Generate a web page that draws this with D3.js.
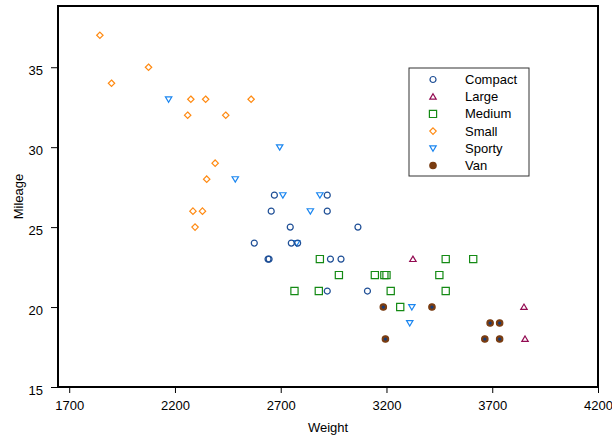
<!DOCTYPE html>
<html>
<head>
<meta charset="utf-8">
<script src="https://cdn.jsdelivr.net/npm/d3@7"></script>
<style>
  html, body { margin: 0; padding: 0; background: #fff; overflow: hidden; }
  svg { display: block; }
  text { font-family: "Liberation Sans", Arial, sans-serif; fill: #000; }
</style>
</head>
<body>
<div id="chart"></div>
<script>
'use strict';

// Car data (Weight vs Mileage) by Type
var types = ['Compact', 'Large', 'Medium', 'Small', 'Sporty', 'Van'];

var compactWeight = [2670, 2640, 2655, 3065, 2750, 2920, 2780, 2745, 3110, 2920, 2645, 2575, 2935, 2920, 2985];
var compactMileage = [27, 23, 26, 25, 24, 26, 24, 25, 21, 21, 23, 24, 23, 27, 23];

var largeWeight = [3325, 3855, 3850];
var largeMileage = [23, 18, 20];

var mediumWeight = [3265, 2880, 2975, 3450, 3145, 3190, 3610, 2885, 3480, 3200, 2765, 3220, 3480];
var mediumMileage = [20, 21, 22, 22, 22, 22, 23, 23, 21, 22, 21, 21, 23];

var smallWeight = [2560, 2345, 1845, 2260, 2440, 2285, 2275, 2350, 2295, 1900, 2390, 2075, 2330];
var smallMileage = [33, 33, 37, 32, 32, 26, 33, 28, 25, 34, 29, 35, 26];

var sportyWeight = [3320, 2885, 3310, 2695, 2170, 2710, 2775, 2840, 2485];
var sportyMileage = [20, 27, 19, 30, 33, 27, 24, 26, 28];

var vanWeight = [3195, 3735, 3665, 3735, 3415, 3185, 3690];
var vanMileage = [18, 18, 18, 19, 20, 20, 19];

var xTicks = [1700, 2200, 2700, 3200, 3700, 4200];
var yTicks = [15, 20, 25, 30, 35];

var width = 612, height = 438;
var margin = {top: 6, right: 14, bottom: 51, left: 58};
var innerWidth = width - margin.left - margin.right;
var innerHeight = height - margin.top - margin.bottom;

var colors = {
  Compact: '#1f4f96',
  Large: '#930b52',
  Medium: '#148a14',
  Small: '#ff8a12',
  Sporty: '#1b86f0',
  Van: '#7a3d12'
};

// symbol paths, centred on 0,0
var shapes = {
  Compact: 'M3,0A3,3 0 1,1 -3,0A3,3 0 1,1 3,0Z',
  Large: 'M0,-3L3.2,2.4L-3.2,2.4Z',
  Medium: 'M-3.6,-3.6H3.6V3.6H-3.6Z',
  Small: 'M0,-3.2L3.2,0L0,3.2L-3.2,0Z',
  Sporty: 'M0,3L3.2,-2.4L-3.2,-2.4Z',
  Van: 'M3.2,0A3.2,3.2 0 1,1 -3.2,0A3.2,3.2 0 1,1 3.2,0Z'
};

function pairs(type, ws, ms) {
  return ws.map(function(w, i) { return {type: type, weight: w, mileage: ms[i]}; });
}

var points = [].concat(
  pairs('Small', smallWeight, smallMileage),
  pairs('Sporty', sportyWeight, sportyMileage),
  pairs('Compact', compactWeight, compactMileage),
  pairs('Medium', mediumWeight, mediumMileage),
  pairs('Large', largeWeight, largeMileage),
  pairs('Van', vanWeight, vanMileage)
);

var svg = d3.select('#chart').append('svg')
  .attr('width', width)
  .attr('height', height);

var chart = svg.append('g')
  .attr('transform', 'translate(' + margin.left + ',' + margin.top + ')');

var x = d3.scaleLinear()
  .domain([1647, 4200])
  .range([0, innerWidth]);

var y = d3.scaleLinear()
  .domain([15, 38.83])
  .range([innerHeight, 0]);

var xAxis = d3.axisBottom(x)
  .tickValues(xTicks)
  .tickSize(6)
  .tickPadding(8)
  .tickFormat(d3.format('d'));

var yAxis = d3.axisLeft(y)
  .tickValues(yTicks)
  .tickSize(7)
  .tickPadding(8)
  .tickFormat(d3.format('d'));

var gx = chart.append('g')
  .attr('transform', 'translate(0,' + innerHeight + ')')
  .call(xAxis);

var gy = chart.append('g')
  .call(yAxis);

[gx, gy].forEach(function(g) {
  g.select('.domain').remove();
  g.selectAll('.tick line').attr('stroke', '#000').attr('stroke-width', 1);
  g.selectAll('.tick text')
    .style('font-family', '"Liberation Sans", Arial, sans-serif')
    .style('font-size', '13px');
});
gy.selectAll('.tick text').attr('dy', '0.55em');

// frame
chart.append('rect')
  .attr('x', 0)
  .attr('y', 0)
  .attr('width', innerWidth)
  .attr('height', innerHeight)
  .attr('fill', 'none')
  .attr('stroke', '#000')
  .attr('stroke-width', 2);

// points
chart.selectAll('path.pt')
  .data(points)
  .enter()
  .append('path')
  .attr('class', 'pt')
  .attr('transform', function(d) { return 'translate(' + x(d.weight) + ',' + y(d.mileage) + ')'; })
  .attr('d', function(d) { return shapes[d.type]; })
  .attr('fill', function(d) { return d.type === 'Van' ? colors.Van : 'none'; })
  .attr('stroke', function(d) { return colors[d.type]; })
  .attr('stroke-width', 1.2);

// dark centre on the van dots
chart.selectAll('circle.vanc')
  .data(points.filter(function(d) { return d.type === 'Van'; }))
  .enter()
  .append('circle')
  .attr('class', 'vanc')
  .attr('cx', function(d) { return x(d.weight); })
  .attr('cy', function(d) { return y(d.mileage); })
  .attr('r', 1.6)
  .attr('fill', '#153c7a');

// axis titles
svg.append('text')
  .attr('x', margin.left + innerWidth / 2)
  .attr('y', 432)
  .attr('text-anchor', 'middle')
  .style('font-size', '13px')
  .text('Weight');

svg.append('text')
  .attr('transform', 'translate(23,' + (margin.top + innerHeight / 2) + ') rotate(-90)')
  .attr('text-anchor', 'middle')
  .style('font-size', '13px')
  .text('Mileage');

// legend
var legend = svg.append('g')
  .attr('transform', 'translate(409,68)');

legend.append('rect')
  .attr('width', 120)
  .attr('height', 108)
  .attr('fill', '#fff')
  .attr('stroke', '#333')
  .attr('stroke-width', 1);

var item = legend.selectAll('g.item')
  .data(types)
  .enter()
  .append('g')
  .attr('class', 'item')
  .attr('transform', function(d, i) { return 'translate(0,' + (11.5 + i * 17.2) + ')'; });

item.append('path')
  .attr('transform', 'translate(24,0)')
  .attr('d', function(d) { return shapes[d]; })
  .attr('fill', function(d) { return d === 'Van' ? colors.Van : 'none'; })
  .attr('stroke', function(d) { return colors[d]; })
  .attr('stroke-width', 1.2);

item.append('text')
  .attr('x', 56)
  .attr('y', 4.5)
  .style('font-size', '13px')
  .text(function(d) { return d; });
</script>
</body>
</html>
